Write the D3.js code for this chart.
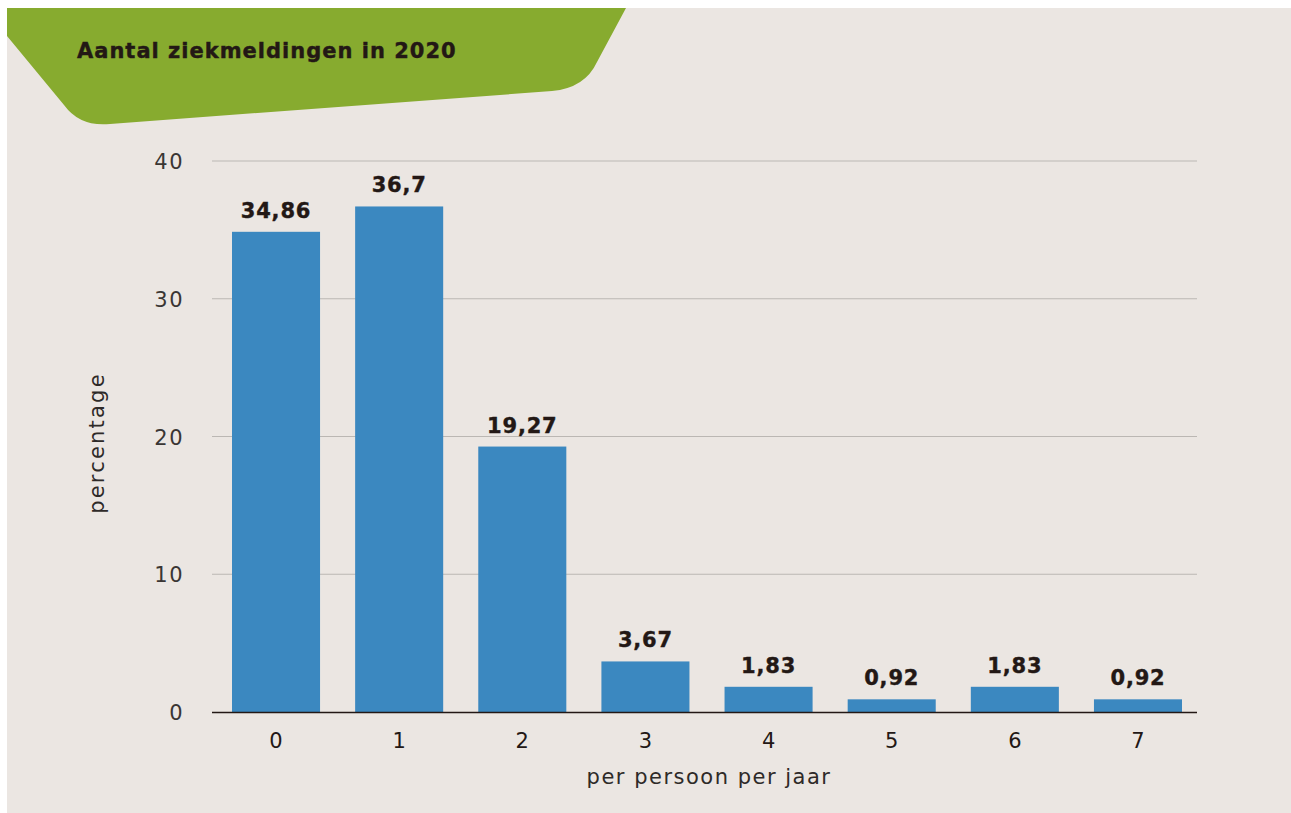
<!DOCTYPE html>
<html><head><meta charset="utf-8">
<script src="https://cdn.jsdelivr.net/npm/d3@7"></script>
<style>body{margin:0;background:#fff;} svg{display:block;}</style>
</head><body>
<svg id="chart" width="1291" height="813"></svg>
<script>
const title = "Aantal ziekmeldingen in 2020";
const categories = ["0","1","2","3","4","5","6","7"];
const values = [34.86, 36.7, 19.27, 3.67, 1.83, 0.92, 1.83, 0.92];
const valueLabels = ["34,86","36,7","19,27","3,67","1,83","0,92","1,83","0,92"];
const yTicks = [0,10,20,30,40];
const xTitle = "per persoon per jaar";
const yTitle = "percentage";

const svg = d3.select("#chart");
const dark = "#231815";
svg.append("rect").attr("x",7).attr("y",8).attr("width",1284).attr("height",805).attr("fill","#ebe6e2");
svg.append("path").attr("d","M7,8 L626,8 L597,62 Q585,88 552,91 L110,124 Q80,127 64,105 L7,36 Z").attr("fill","#87ab2f");
svg.append("text").attr("x",77).attr("y",58).text(title)
  .attr("font-family","'DejaVu Sans', sans-serif").attr("font-weight",700).attr("font-size",21)
  .attr("letter-spacing",1).attr("stroke",dark).attr("stroke-width",0.4).attr("fill",dark);

const y = d3.scaleLinear().domain([0,40]).range([712,161]);
const x = d3.scaleBand().domain(categories).range([232,1182]).paddingInner(0.285).paddingOuter(0);

const font = "'DejaVu Sans', sans-serif";
const grid = svg.append("g");
grid.selectAll("line").data(yTicks.filter(d=>d>0)).join("line")
  .attr("x1",212).attr("x2",1197).attr("y1",d=>y(d)).attr("y2",d=>y(d))
  .attr("stroke","#bbb7b3").attr("stroke-width",1.2);

svg.append("g").selectAll("text").data(yTicks).join("text")
  .attr("x",184).attr("y",d=>y(d)+8).attr("text-anchor","end")
  .attr("font-family",font).attr("font-size",21).attr("letter-spacing",1.5).attr("fill","#3a3634").text(d=>d);

svg.append("g").selectAll("rect").data(values).join("rect")
  .attr("x",(d,i)=>x(categories[i])).attr("width",x.bandwidth())
  .attr("y",d=>y(d)).attr("height",d=>y(0)-y(d)).attr("fill","#3b88c0");

svg.append("line").attr("x1",212).attr("x2",1197).attr("y1",y(0)+0.5).attr("y2",y(0)+0.5)
  .attr("stroke",dark).attr("stroke-width",1.5);

svg.append("g").selectAll("text").data(values).join("text")
  .attr("x",(d,i)=>x(categories[i])+x.bandwidth()/2).attr("y",d=>y(d)-14)
  .attr("text-anchor","middle").attr("font-family",font)
  .attr("font-weight",700).attr("font-size",21).attr("letter-spacing",0.8)
  .attr("stroke",dark).attr("stroke-width",0.4).attr("fill",dark).text((d,i)=>valueLabels[i]);

svg.append("g").selectAll("text").data(categories).join("text")
  .attr("x",d=>x(d)+x.bandwidth()/2).attr("y",748).attr("text-anchor","middle")
  .attr("font-family",font).attr("font-size",21).attr("fill",dark).text(d=>d);

svg.append("text").attr("x",709).attr("y",784).attr("text-anchor","middle")
  .attr("font-family",font).attr("font-size",21).attr("letter-spacing",1.5).attr("fill","#2e2a28").text(xTitle);

svg.append("text").attr("transform","translate(104,443) rotate(-90)").attr("text-anchor","middle")
  .attr("font-family",font).attr("font-size",21).attr("letter-spacing",2.2).attr("fill","#2e2a28").text(yTitle);
</script>
</body></html>
